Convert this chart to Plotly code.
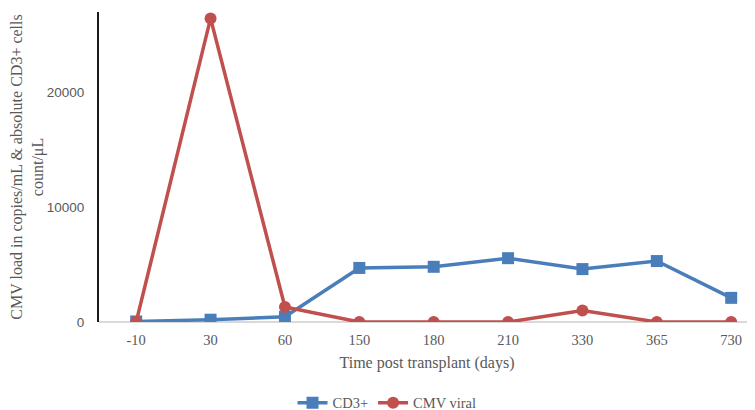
import plotly.graph_objects as go

categories = ["-10", "30", "60", "150", "180", "210", "330", "365", "730"]
cd3 = [50, 200, 450, 4700, 4800, 5550, 4600, 5300, 2100]
cmv = [0, 26400, 1300, 0, 0, 0, 1000, 0, 0]
y_ticks = [0, 10000, 20000]

xpos = list(range(len(categories)))
serif = "Liberation Serif, Times New Roman, serif"
sans = "Liberation Sans, Arial, sans-serif"

fig = go.Figure()
fig.add_trace(go.Scatter(
    x=xpos, y=cd3, name="CD3+", mode="lines+markers",
    line=dict(color="#4a7ebb", width=3.5),
    marker=dict(symbol="square", size=12, color="#4a7ebb"),
))
fig.add_trace(go.Scatter(
    x=xpos, y=cmv, name="CMV viral", mode="lines+markers",
    line=dict(color="#c0504d", width=3.5),
    marker=dict(symbol="circle", size=12, color="#c0504d"),
))

# page body has an 8px default margin, so the figure is drawn 8px in from the corner
fig.update_layout(
    width=747, height=402,
    margin=dict(l=91, r=0, t=4, b=88, autoexpand=False),
    paper_bgcolor="white", plot_bgcolor="white",
    font=dict(family=serif, color="#595959", size=14),
    showlegend=True,
    legend=dict(orientation="h", x=0.295, xanchor="left", y=-0.261, yanchor="middle",
                itemwidth=30, tracegroupgap=0,
                font=dict(size=14.5, color="#595959", family=serif)),
    xaxis=dict(
        range=[-0.5, 8.32], tickvals=xpos, ticktext=categories,
        showgrid=False, zeroline=False, showline=False, ticks="", automargin=False,
        ticklabelstandoff=7,
        tickfont=dict(size=14.5, color="#595959", family=serif),
        title=dict(text="Time post transplant (days)", font=dict(size=16, color="#595959"), standoff=10),
    ),
    yaxis=dict(
        range=[0, 26957], tickvals=y_ticks, ticktext=[str(v) for v in y_ticks],
        showgrid=False, zeroline=True, zerolinecolor="#d9d9d9", zerolinewidth=1.5,
        showline=True, linecolor="#1a1a1a", linewidth=2, ticks="", automargin=False,
        ticklabelstandoff=10,
        tickfont=dict(size=13.5, color="#595959", family=sans),
        title=dict(text="CMV load in copies/mL & absolute CD3+ cells<br>count/μL",
                   font=dict(size=16, color="#595959", family=serif), standoff=3),
    ),
)

fig.write_html("out.html")
